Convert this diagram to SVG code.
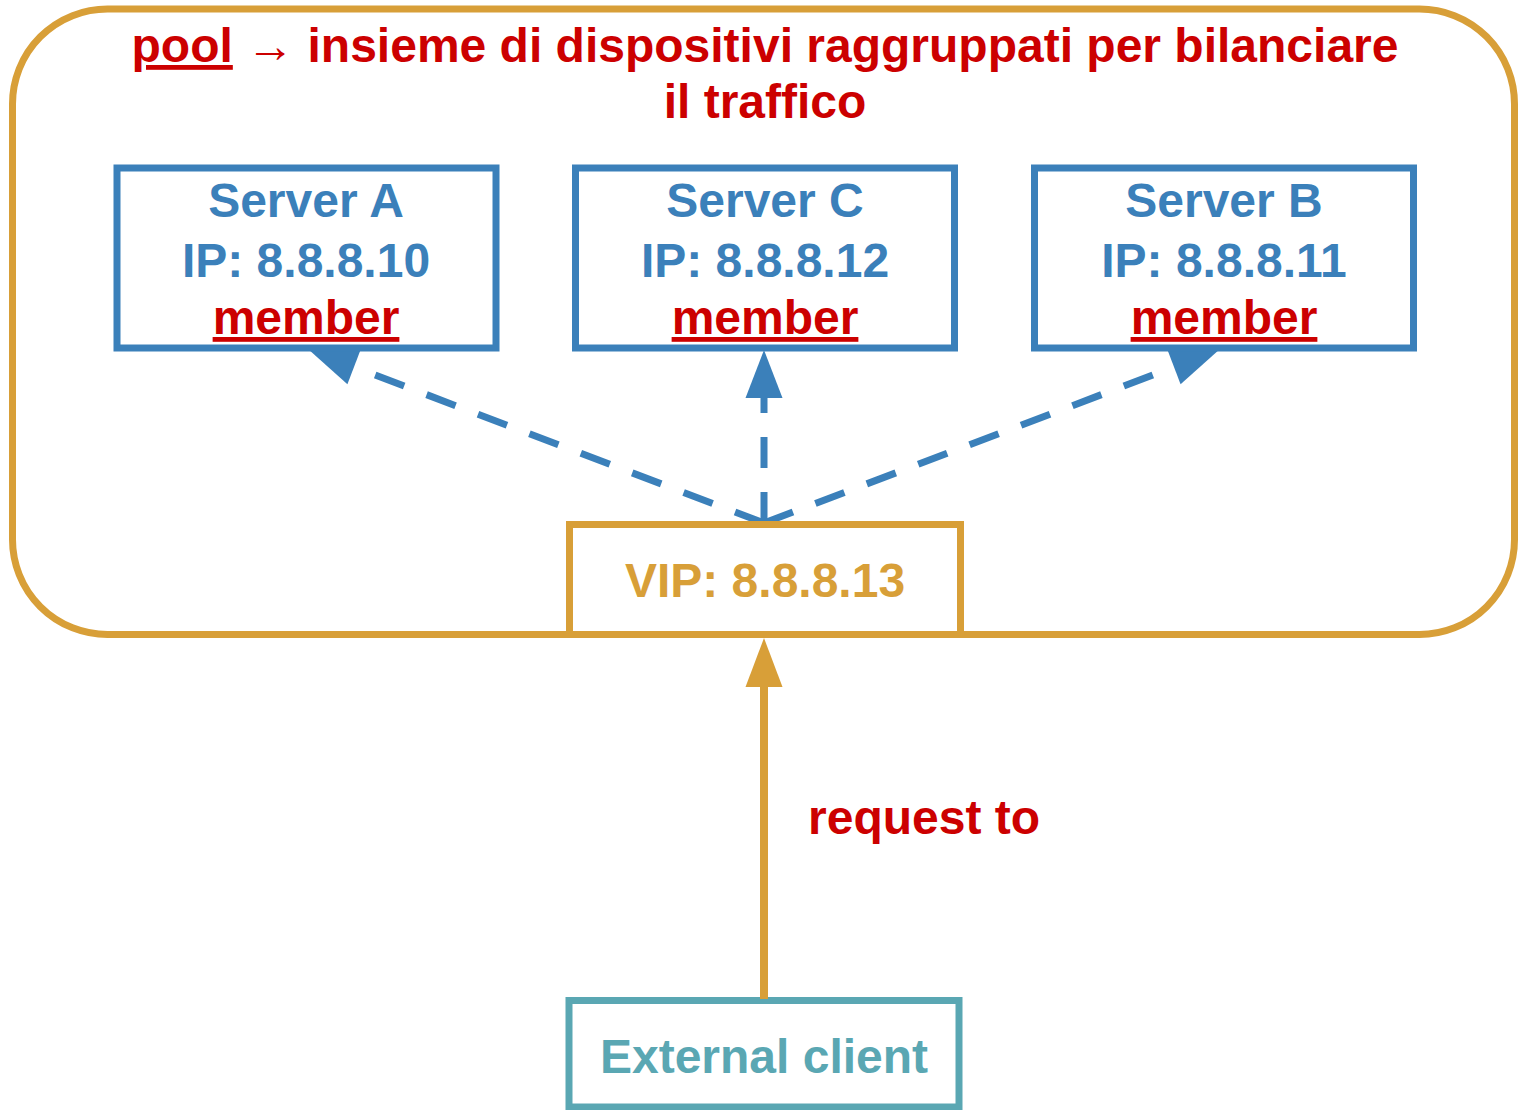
<svg xmlns="http://www.w3.org/2000/svg" width="1518" height="1110" viewBox="0 0 1518 1110">
<style>
text{font-family:"Liberation Sans",Arial,sans-serif;font-weight:bold;font-size:48px;text-anchor:middle}
.red{fill:#cc0000}
.blue{fill:#3b80ba}
.org{fill:#d89f38}
.teal{fill:#5aa7b3}
.u{text-decoration:underline}
.srv{fill:#fff;stroke:#3b80ba;stroke-width:7}
.obox{fill:#fff;stroke:#d89f38;stroke-width:7}
.dash{fill:none;stroke:#3b80ba;stroke-width:7;stroke-dasharray:31 24}
</style>
<defs>
<marker id="ab" markerUnits="userSpaceOnUse" markerWidth="50" markerHeight="40" refX="0" refY="18.5" orient="auto" overflow="visible"><path d="M0,0 L48,18.5 L0,37 z" fill="#3b80ba"/></marker>
<marker id="ao" markerUnits="userSpaceOnUse" markerWidth="50" markerHeight="40" refX="0" refY="18.5" orient="auto" overflow="visible"><path d="M0,0 L49,18.5 L0,37 z" fill="#d89f38"/></marker>
</defs>
<g id="pool">
<rect x="12.5" y="9" width="1502" height="625.5" rx="95" ry="95" fill="#fff" stroke="#d89f38" stroke-width="7"/>
<text x="765" y="62" class="red"><tspan class="u">pool</tspan><tspan font-weight="normal"> → </tspan>insieme di dispositivi raggruppati per bilanciare</text>
<text x="765" y="118" class="red">il traffico</text>
</g>
<g id="connectors">
<path class="dash" d="M764,523 L354,367" marker-end="url(#ab)"/>
<path class="dash" d="M764,523 L764,398" marker-end="url(#ab)"/>
<path class="dash" d="M764,523 L1174,367" marker-end="url(#ab)"/>
</g>
<g id="serverA">
<rect class="srv" x="117" y="168" width="379" height="180"/>
<text x="306" y="217" class="blue">Server A</text>
<text x="306" y="277" class="blue">IP: 8.8.8.10</text>
<text x="306" y="334" class="red u">member</text>
</g>
<g id="serverC">
<rect class="srv" x="575.5" y="168" width="379" height="180"/>
<text x="765" y="217" class="blue">Server C</text>
<text x="765" y="277" class="blue">IP: 8.8.8.12</text>
<text x="765" y="334" class="red u">member</text>
</g>
<g id="serverB">
<rect class="srv" x="1034.5" y="168" width="379" height="180"/>
<text x="1224" y="217" class="blue">Server B</text>
<text x="1224" y="277" class="blue">IP: 8.8.8.11</text>
<text x="1224" y="334" class="red u">member</text>
</g>
<g id="vip">
<rect class="obox" x="569.5" y="524.5" width="391" height="110"/>
<text x="765" y="597" class="org">VIP: 8.8.8.13</text>
</g>
<g id="client">
<rect x="569" y="1000.5" width="390" height="106.5" fill="#fff" stroke="#5aa7b3" stroke-width="7"/>
<text x="764" y="1073" class="teal">External client</text>
</g>
<g id="request-connector">
<path d="M764,999 L764,687" fill="none" stroke="#d89f38" stroke-width="8" marker-end="url(#ao)"/>
<text x="808" y="834" class="red" text-anchor="start" style="text-anchor:start">request to</text>
</g>
</svg>
